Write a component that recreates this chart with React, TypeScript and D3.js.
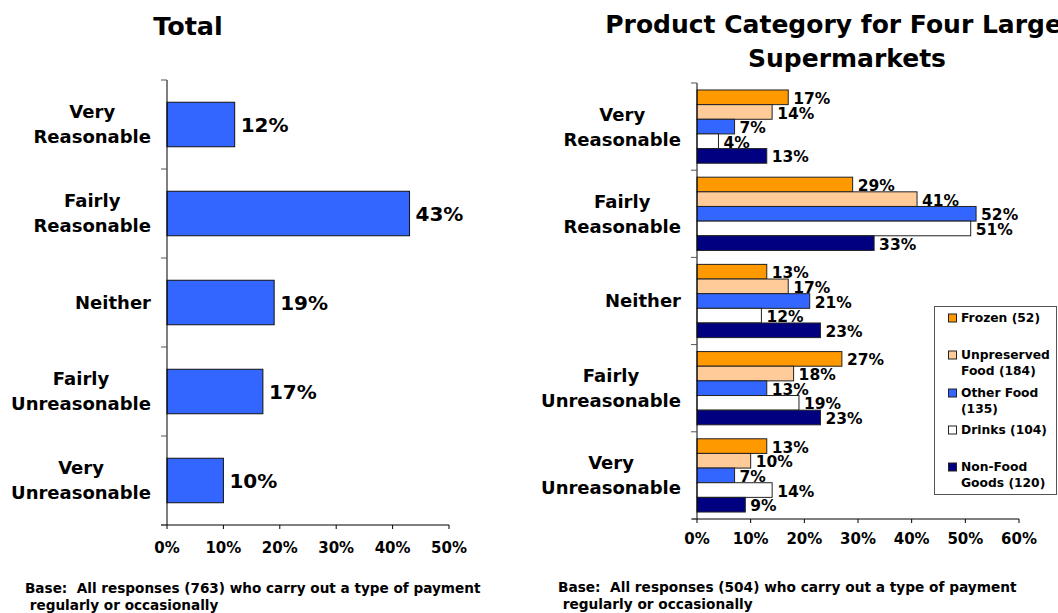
import React, { useEffect, useRef } from "react";
import * as d3 from "d3";

const categories = ["Very|Reasonable", "Fairly|Reasonable", "Neither", "Fairly|Unreasonable", "Very|Unreasonable"];
const totalValues = [12, 43, 19, 17, 10];
const seriesNames = ["Frozen (52)", "Unpreserved|Food (184)", "Other Food|(135)", "Drinks (104)", "Non-Food|Goods (120)"];
const seriesColors = ["#FF9900", "#FFCC99", "#3366FF", "#FFFFFF", "#000080"];
const frozen = [17, 29, 13, 27, 13];
const unpreserved = [14, 41, 17, 18, 10];
const otherFood = [7, 52, 21, 13, 7];
const drinks = [4, 51, 12, 19, 14];
const nonFood = [13, 33, 23, 23, 9];
const leftTicks = [0, 10, 20, 30, 40, 50];
const rightTicks = [0, 10, 20, 30, 40, 50, 60];
const leftNote = ["Base:  All responses (763) who carry out a type of payment", " regularly or occasionally"];
const rightNote = ["Base:  All responses (504) who carry out a type of payment", " regularly or occasionally"];

const FONT = "'DejaVu Sans', Verdana, sans-serif";

export default function App() {
  const ref = useRef<SVGSVGElement>(null);
  useEffect(() => {
    const svg = d3.select(ref.current);
    svg.selectAll("*").remove();
    svg.attr("font-family", FONT).attr("font-weight", "bold");

    const drawCatLabels = (g: any, y: any, axisX: number) => {
      categories.forEach((c) => {
        const lines = c.split("|");
        const cy = (y(c) as number) + y.bandwidth() / 2;
        const t = g.append("text").attr("font-size", 18).attr("text-anchor", "middle").attr("fill", "#000");
        lines.forEach((l: string, i: number) => {
          t.append("tspan").attr("x", 0).attr("y", cy + (i - (lines.length - 1) / 2) * 25).attr("dy", "0.36em").text(l);
        });
        const node = t.node() as SVGTextElement;
        let w = 0;
        node.querySelectorAll("tspan").forEach((s: any) => { w = Math.max(w, s.getComputedTextLength()); });
        t.selectAll("tspan").attr("x", axisX - 16 - w / 2);
      });
    };

    // LEFT CHART
    {
      const x0 = 167, x1 = 449, yTop = 80, yBot = 525;
      const x = d3.scaleLinear().domain([0, 50]).range([x0, x1]);
      const y = d3.scaleBand().domain(categories).range([yTop, yBot]).paddingInner(0.5).paddingOuter(0.25);
      const g = svg.append("g");
      g.append("text").attr("x", 188).attr("y", 35).attr("text-anchor", "middle").attr("font-size", 25.5).text("Total");
      g.selectAll("rect.bar").data(totalValues).enter().append("rect")
        .attr("x", x(0)).attr("y", (d: number, i: number) => y(categories[i]) as number)
        .attr("width", (d: number) => x(d) - x(0)).attr("height", y.bandwidth())
        .attr("fill", "#3366FF").attr("stroke", "#111").attr("stroke-width", 1);
      g.selectAll("text.val").data(totalValues).enter().append("text")
        .attr("x", (d: number) => x(d) + 6).attr("y", (d: number, i: number) => (y(categories[i]) as number) + y.bandwidth() / 2)
        .attr("dy", "0.36em").attr("font-size", 20).text((d: number) => d + "%");
      g.append("line").attr("x1", x0).attr("x2", x0).attr("y1", yTop).attr("y2", yBot).attr("stroke", "#000");
      g.append("line").attr("x1", x0 - 6).attr("x2", x1).attr("y1", yBot).attr("y2", yBot).attr("stroke", "#000");
      const bounds = d3.range(categories.length + 1).map((i) => yTop + (i * (yBot - yTop)) / categories.length);
      bounds.forEach((b) => g.append("line").attr("x1", x0 - 6).attr("x2", x0).attr("y1", b).attr("y2", b).attr("stroke", "#555"));
      leftTicks.forEach((t) => {
        g.append("line").attr("x1", x(t)).attr("x2", x(t)).attr("y1", yBot).attr("y2", yBot + 4).attr("stroke", "#000");
        g.append("text").attr("x", x(t)).attr("y", yBot + 23).attr("dy", "0.36em").attr("text-anchor", "middle").attr("font-size", 15).text(t + "%");
      });
      drawCatLabels(g, y, x0);
      leftNote.forEach((l, i) => g.append("text").attr("x", 25).attr("y", 588 + i * 17).attr("dy", "0.36em").attr("font-size", 13.6).style("white-space", "pre").text(l));
    }

    // RIGHT CHART
    {
      const x0 = 697, x1 = 1019, yTop = 83, yBot = 519;
      const x = d3.scaleLinear().domain([0, 60]).range([x0, x1]);
      const y = d3.scaleBand().domain(categories).range([yTop, yBot]).paddingInner(0.16).paddingOuter(0.08);
      const y1 = d3.scaleBand().domain(seriesNames).range([0, y.bandwidth()]);
      const series = [frozen, unpreserved, otherFood, drinks, nonFood];
      const g = svg.append("g");
      const tt = g.append("text").attr("text-anchor", "middle").attr("font-size", 25);
      tt.append("tspan").attr("x", 847).attr("y", 33).text("Product Category for Four Largest");
      tt.append("tspan").attr("x", 847).attr("y", 67).text("Supermarkets");
      categories.forEach((c, ci) => {
        series.forEach((s, si) => {
          const by = (y(c) as number) + (y1(seriesNames[si]) as number);
          g.append("rect").attr("x", x(0)).attr("y", by).attr("width", x(s[ci]) - x(0)).attr("height", y1.bandwidth())
            .attr("fill", seriesColors[si]).attr("stroke", "#222").attr("stroke-width", 1);
        });
        series.forEach((s, si) => {
          const by = (y(c) as number) + (y1(seriesNames[si]) as number);
          g.append("text").attr("x", x(s[ci]) + 5).attr("y", by + y1.bandwidth() / 2 + 1).attr("dy", "0.36em")
            .attr("font-size", 15.5).text(s[ci] + "%");
        });
      });
      g.append("line").attr("x1", x0).attr("x2", x0).attr("y1", yTop).attr("y2", yBot).attr("stroke", "#000");
      g.append("line").attr("x1", x0 - 5).attr("x2", x1).attr("y1", yBot).attr("y2", yBot).attr("stroke", "#000");
      const bounds = d3.range(categories.length + 1).map((i) => yTop + (i * (yBot - yTop)) / categories.length);
      bounds.forEach((b) => g.append("line").attr("x1", x0 - 6).attr("x2", x0).attr("y1", b).attr("y2", b).attr("stroke", "#555"));
      rightTicks.forEach((t) => {
        g.append("line").attr("x1", x(t)).attr("x2", x(t)).attr("y1", yBot).attr("y2", yBot + 4).attr("stroke", "#000");
        g.append("text").attr("x", x(t)).attr("y", yBot + 20).attr("dy", "0.36em").attr("text-anchor", "middle").attr("font-size", 15).text(t + "%");
      });
      drawCatLabels(g, y, x0);
      g.append("rect").attr("x", 934.5).attr("y", 306.5).attr("width", 122).attr("height", 188).attr("fill", "#fff").attr("stroke", "#555");
      const legY = [318, 355, 393, 430, 467];
      seriesNames.forEach((n, i) => {
        g.append("rect").attr("x", 948.5).attr("y", legY[i] - 4).attr("width", 8).attr("height", 8).attr("fill", seriesColors[i]).attr("stroke", "#222");
        n.split("|").forEach((l, li) => g.append("text").attr("x", 961).attr("y", legY[i] + li * 16).attr("dy", "0.36em").attr("font-size", 12.3).text(l));
      });
      rightNote.forEach((l, i) => g.append("text").attr("x", 558).attr("y", 587 + i * 17).attr("dy", "0.36em").attr("font-size", 13.7).style("white-space", "pre").text(l));
    }
  }, []);
  return <svg ref={ref} width={1058} height={613} style={{ position: "absolute", left: 0, top: 0, background: "#fff" }} />;
}
